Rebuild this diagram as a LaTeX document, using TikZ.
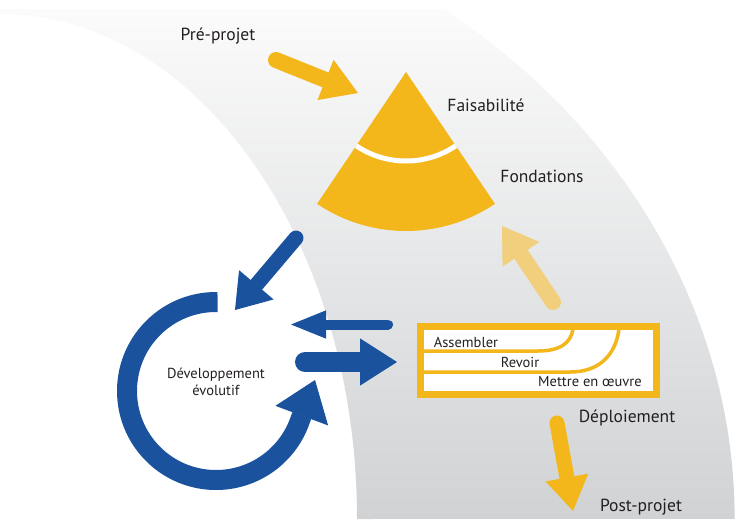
\documentclass[tikz,border=0pt]{standalone}
\usepackage{fontspec}
\setmainfont{PT Sans}
\usetikzlibrary{arrows.meta,positioning}

\definecolor{gold}{RGB}{243,182,27}
\definecolor{paleGold}{RGB}{241,207,125}
\definecolor{navy}{RGB}{27,82,158}
\definecolor{bandTop}{RGB}{251,251,251}
\definecolor{bandBottom}{RGB}{208,210,212}
\definecolor{ink}{RGB}{35,31,32}

\tikzset{
    phase/.style={text=ink, inner sep=0pt, font=\fontsize{17.5}{20}\selectfont},
    rowtext/.style={text=ink, inner sep=0pt, font=\fontsize{14.5}{16}\selectfont},
    fatarrow/.style n args={3}{line width=#1, line cap=round,
        -{Triangle[length=#2, width=#3, line width=1pt]}},
}

\begin{document}
\begin{tikzpicture}[x=1pt,y=-1pt]
    \useasboundingbox (0,0) rectangle (747,528);

    % grey band
    \shade[top color=bandTop, bottom color=bandBottom]
        (0,9) -- (444,9) arc[start angle=-52.8, end angle=0, x radius=735, y radius=640]
        -- (357,519) arc[start angle=0, end angle=-90, x radius=357, y radius=505] -- cycle;

    % pyramid
    \def\rbig{159}
    \def\rgap{89}
    \coordinate (apex) at (406,72);
    \fill[gold] (apex) -- ++(124:\rbig) arc[start angle=124, end angle=56, radius=\rbig] -- cycle;
    \draw[white, line width=5pt] ([shift={(124:\rgap)}]apex) arc[start angle=124, end angle=56, radius=\rgap];

    \node[phase] (pre) at (218,36) {Pré-projet};
    \node[phase] (feas) at (486,105) {Faisabilité};
    \node[phase] (found) at (542,176) {Fondations};
    \node[phase] (deploy) at (627,418) {Déploiement};
    \node[phase] (post) at (641,507) {Post-projet};

    % deployment box
    \draw[gold, line width=7pt, fill=white] (420.5,326.5) rectangle (656.5,394.5);
    \draw[gold, line width=3.5pt] (424,351) -- (538,351) .. controls (560,351) and (571,343) .. (573,329);
    \draw[gold, line width=3.5pt] (424,372) -- (570,372) .. controls (602,372) and (616,352) .. (619,329);
    \node[rowtext] (assemble) at (466,342) {Assembler};
    \node[rowtext] (review) at (520,362) {Revoir};
    \node[rowtext] (apply) at (590,382) {Mettre en œuvre};

    % yellow arrows
    \coordinate (preTail) at (276,60);
    \coordinate (preTip) at (358,93);
    \coordinate (foundTail) at (553,302);
    \coordinate (foundTip) at (502,226);
    \coordinate (deployTail) at (557,423);
    \coordinate (deployTip) at (573,511);
    \draw[gold, fatarrow={16pt}{35pt}{43pt}] (preTail) -- (preTip);
    \draw[paleGold, fatarrow={16pt}{34pt}{44pt}] (foundTail) -- (foundTip);
    \draw[gold, fatarrow={15pt}{34pt}{43pt}] (deployTail) -- (deployTip);

    % evolutionary loop
    \coordinate (loopCentre) at (216,391);
    \coordinate (loopStart) at ([shift={(271:89)}]loopCentre);
    \coordinate (loopTip) at (315,380);
    \node[text=ink, inner sep=0pt, align=center, font=\fontsize{14.5}{17}\selectfont] (evo) at (216,382) {Développement\\évolutif};
    \draw[navy, line width=20pt, -{Triangle[length=38pt, width=56pt, line width=1pt]}]
        (loopStart) arc[start angle=271, end angle=19, radius=89] -- (loopTip);

    % blue arrows
    \coordinate (downTail) at (296,238);
    \coordinate (downTip) at (235,310);
    \coordinate (backTail) at (388,324.5);
    \coordinate (backTip) at (291,324.5);
    \coordinate (fwdTail) at (305,362);
    \coordinate (fwdTip) at (397,362);
    \draw[navy, fatarrow={15pt}{33pt}{45pt}] (downTail) -- (downTip);
    \draw[navy, fatarrow={10pt}{35pt}{28pt}] (backTail) -- (backTip);
    \draw[navy, fatarrow={20pt}{37pt}{47pt}] (fwdTail) -- (fwdTip);
\end{tikzpicture}
\end{document}
